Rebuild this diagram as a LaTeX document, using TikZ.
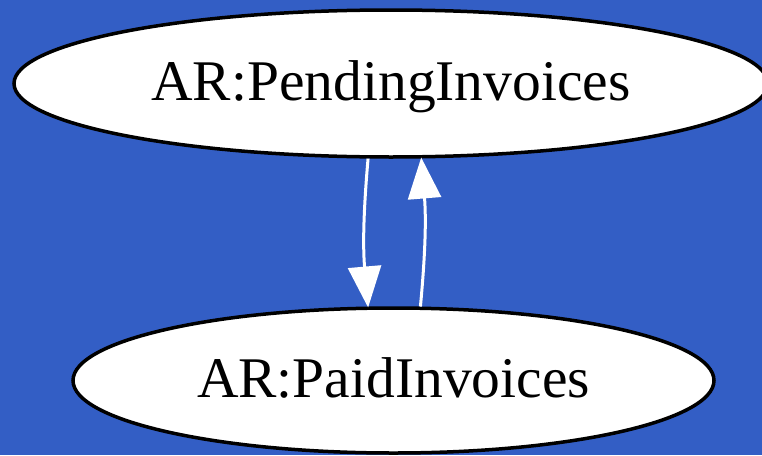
\documentclass[tikz,border=0pt]{standalone}
\usepackage{fontspec}
\setmainfont{Liberation Serif}
\usetikzlibrary{shapes.geometric,arrows.meta}
\definecolor{bgblue}{RGB}{51,94,197}
\begin{document}
\begin{tikzpicture}[x=1pt,y=-1pt,
  state/.style={ellipse,draw=black,fill=white,line width=3.5pt,inner sep=0pt,
    font=\fontsize{57.5}{60}\selectfont,text height=40pt,text depth=7pt},
  flow/.style={draw=white,line width=3pt,-{Triangle[length=41pt,width=33pt]},shorten >=-1pt}]
\fill[bgblue] (0,0) rectangle (762,455);
\useasboundingbox (0,0) rectangle (762,455);
\node[state,minimum width=754pt,minimum height=147pt] (pend) at (391,83.5) {AR:PendingInvoices};
\node[state,minimum width=641pt,minimum height=145pt] (paid) at (393.5,380.5) {AR:PaidInvoices};
\draw[flow] (pend.253.5) to[bend right=5] (paid.109.1);
\draw[flow] (paid.70.9) to[bend right=5] (pend.292.5);
\end{tikzpicture}
\end{document}
